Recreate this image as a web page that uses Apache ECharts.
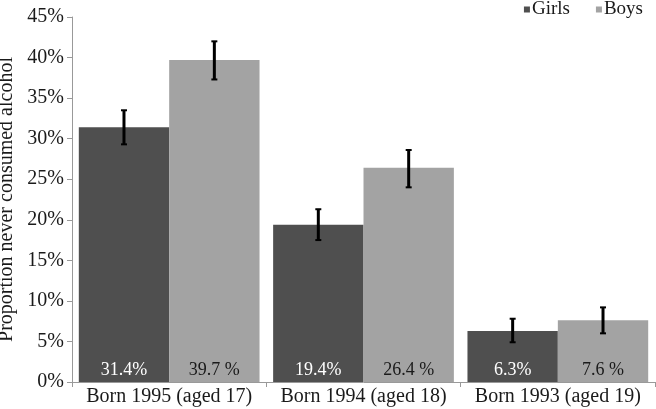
<!DOCTYPE html>
<html><head><meta charset="utf-8">
<script src="https://cdn.jsdelivr.net/npm/echarts@6/dist/echarts.min.js"></script>
<style>html,body{margin:0;padding:0;background:#fff}#c{width:656px;height:409px}</style>
</head><body><div id="c"></div>
<script>
var categories = ['Born 1995 (aged 17)', 'Born 1994 (aged 18)', 'Born 1993 (aged 19)'];
var girls = [31.4, 19.4, 6.3];
var boys = [39.7, 26.4, 7.6];
var girlsLabels = ['31.4%', '19.4%', '6.3%'];
var boysLabels = ['39.7 %', '26.4 %', '7.6 %'];
var girlsLow = [29.3, 17.5, 4.9];
var girlsHigh = [33.5, 21.3, 7.8];
var boysLow = [37.3, 24.0, 6.0];
var boysHigh = [42.0, 28.6, 9.2];
var yTicks = [0, 5, 10, 15, 20, 25, 30, 35, 40, 45];

var FONT = '"Liberation Serif", "Times New Roman", serif';
var GAP = 0.07;
var chart = echarts.init(document.getElementById('c'), null, {renderer: 'canvas'});

function errSeries(name, low, high, side) {
  return {
    type: 'custom', name: name + ' err', z: 10,
    data: categories.map(function (c, i) { return [i, low[i], high[i]]; }),
    renderItem: function (params, api) {
      var band = api.size([1, 0])[0];
      var bw = band * (1 - GAP) / 2;
      var p1 = api.coord([api.value(0), api.value(1)]);
      var p2 = api.coord([api.value(0), api.value(2)]);
      var x = p1[0] + side * bw / 2;
      var cap = 3;
      return {type: 'group', children: [
        {type: 'line', shape: {x1: x, y1: p1[1], x2: x, y2: p2[1]}, style: {stroke: '#000', lineWidth: 3}},
        {type: 'line', shape: {x1: x - cap, y1: p1[1], x2: x + cap, y2: p1[1]}, style: {stroke: '#000', lineWidth: 2}},
        {type: 'line', shape: {x1: x - cap, y1: p2[1], x2: x + cap, y2: p2[1]}, style: {stroke: '#000', lineWidth: 2}}
      ]};
    },
    silent: true, tooltip: {show: false}
  };
}

chart.setOption({
  animation: false,
  textStyle: {fontFamily: FONT},
  legend: {
    top: -5, right: 8, itemWidth: 6, itemHeight: 6, itemGap: 26,
    icon: 'rect',
    textStyle: {fontFamily: FONT, fontSize: 19, color: '#1a1a1a', padding: [0, 0, 0, -3]},
    data: ['Girls', 'Boys']
  },
  grid: {left: 72, right: 1, top: 17, bottom: 27, containLabel: false, outerBoundsMode: 'none'},
  xAxis: {
    type: 'category', data: categories,
    axisLine: {lineStyle: {color: '#999', width: 1}},
    axisTick: {show: true, alignWithLabel: false, length: 5, lineStyle: {color: '#999'}},
    axisLabel: {fontFamily: FONT, fontSize: 20, color: '#1a1a1a', margin: 5, interval: 0}
  },
  yAxis: {
    type: 'value', min: 0, max: 45, interval: 5,
    name: 'Proportion never consumed alcohol', nameLocation: 'middle', nameGap: 45,
    nameTextStyle: {fontFamily: FONT, fontSize: 20, color: '#1a1a1a'},
    axisLine: {show: true, lineStyle: {color: '#999', width: 1}},
    axisTick: {show: true, length: 5, lineStyle: {color: '#999'}},
    splitLine: {show: false},
    axisLabel: {fontFamily: FONT, fontSize: 20, color: '#1a1a1a', margin: 8, formatter: '{value}%'}
  },
  series: [
    {name: 'Girls', type: 'bar', data: girls, barGap: '0%', barCategoryGap: (GAP * 100) + '%',
     itemStyle: {color: '#4f4f4f'},
     label: {show: true, position: 'insideBottom', distance: 3, fontFamily: FONT, fontSize: 18, color: '#fff',
       formatter: function (p) { return girlsLabels[p.dataIndex]; }}},
    {name: 'Boys', type: 'bar', data: boys, barGap: '0%', barCategoryGap: (GAP * 100) + '%',
     itemStyle: {color: '#a3a3a3'},
     label: {show: true, position: 'insideBottom', distance: 3, fontFamily: FONT, fontSize: 18, color: '#1a1a1a',
       formatter: function (p) { return boysLabels[p.dataIndex]; }}},
    errSeries('Girls', girlsLow, girlsHigh, -1),
    errSeries('Boys', boysLow, boysHigh, 1)
  ]
});
</script></body></html>
